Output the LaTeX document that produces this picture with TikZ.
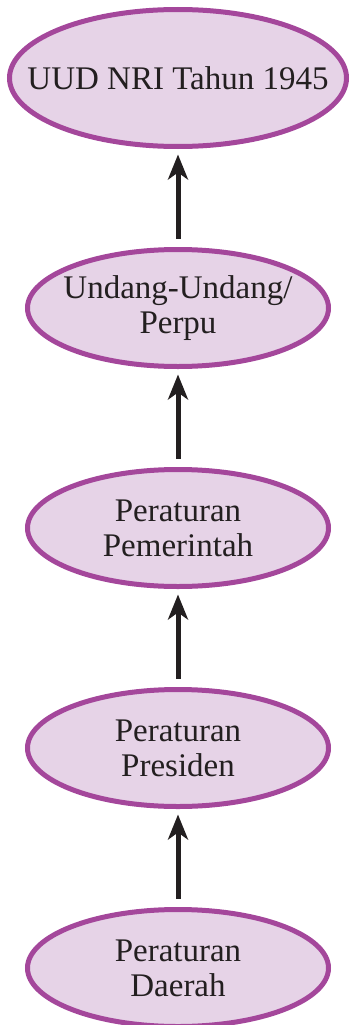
\documentclass[tikz,border=0pt]{standalone}
\usepackage{fontspec}
\setmainfont{Liberation Serif}
\usetikzlibrary{shapes.geometric,arrows.meta}
\definecolor{rimpurple}{HTML}{A4479B}
\definecolor{fillpurple}{HTML}{E6D3E7}
\definecolor{inkblack}{HTML}{231F20}

\begin{document}
\begin{tikzpicture}
[x=1pt,y=-1pt,>={Stealth[length=25pt,width=20pt,inset=7pt]},
level/.style = {draw=rimpurple, fill=fillpurple, line width=5pt, ellipse, inner sep=-60pt,
  minimum width=301pt, minimum height=117pt, align=center, text=inkblack,
  font=\fontsize{33}{35}\selectfont},
up/.style = {->, draw=inkblack, fill=inkblack, line width=5pt, shorten >=5.5pt, shorten <=8.5pt},]
\useasboundingbox (0,0) rectangle (349,1025);
\node (uud) at (178,78)[level,minimum width=337pt,minimum height=137pt] {UUD NRI Tahun 1945};
\node (uu) at (178,308)[level] {Undang-Undang/\\Perpu};
\node (pp) at (178,528)[level] {Peraturan\\Pemerintah};
\node (perpres) at (178,748)[level] {Peraturan\\Presiden};
\node (perda) at (178,968)[level] {Peraturan\\Daerah};
\draw[up] (uu.north) -- (uud.south);
\draw[up] (pp.north) -- (uu.south);
\draw[up] (perpres.north) -- (pp.south);
\draw[up] (perda.north) -- (perpres.south);

\end{tikzpicture}
\end{document}
